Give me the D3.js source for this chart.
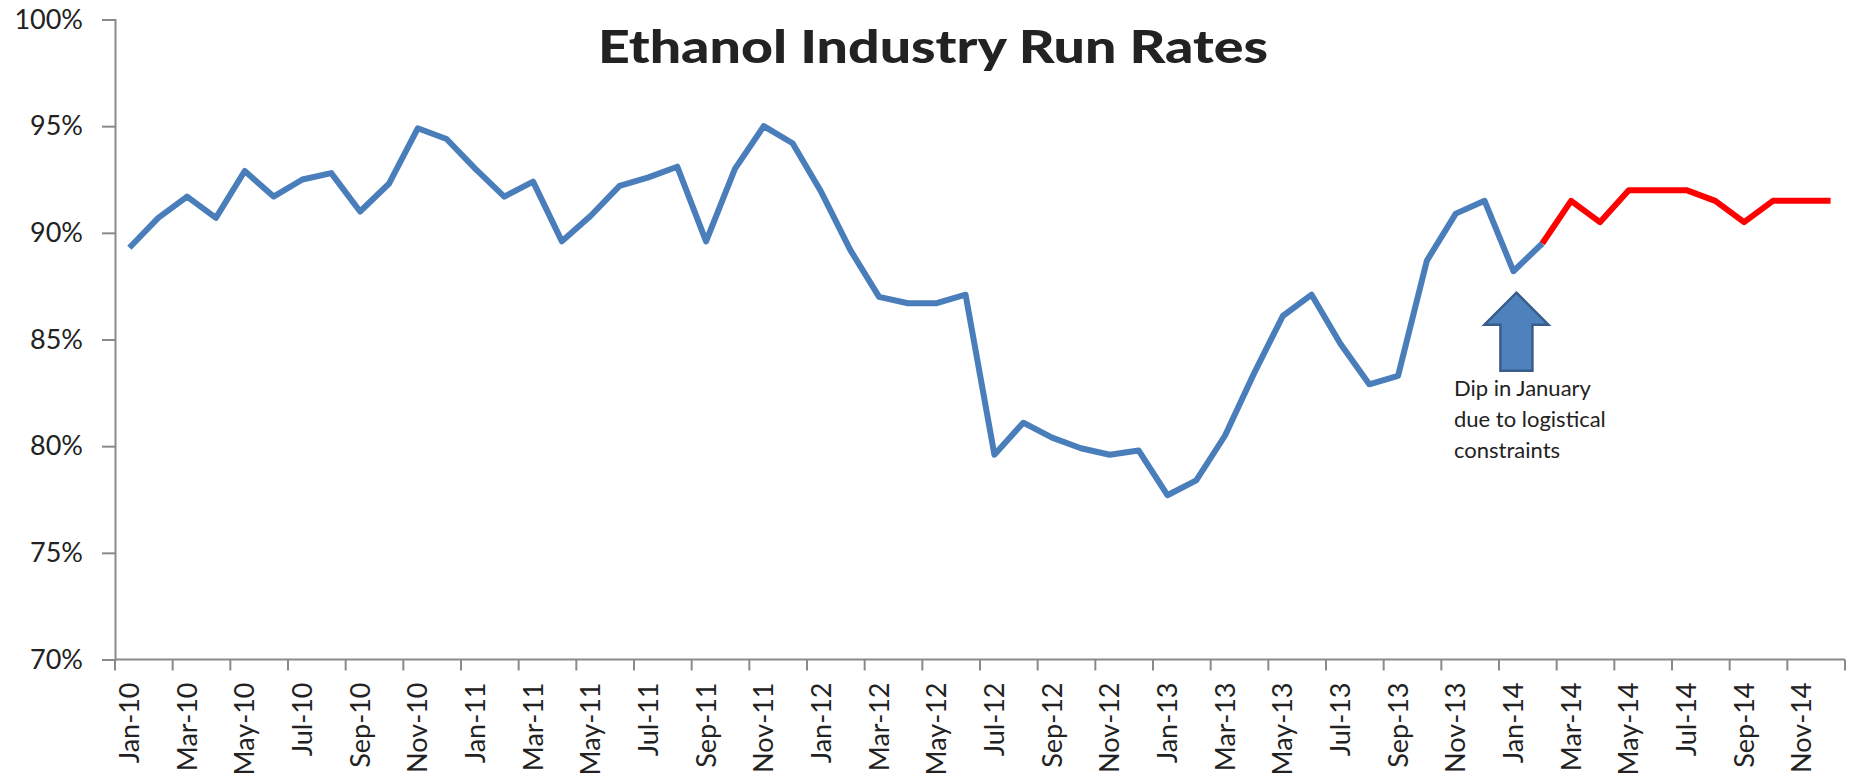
<!DOCTYPE html>
<html>
<head>
<meta charset="utf-8">
<script src="https://cdn.jsdelivr.net/npm/d3@7"></script>
<style>
  html, body { margin: 0; padding: 0; background: #ffffff; }
  svg { display: block; }
  text { font-family: Lato, "Open Sans", sans-serif; fill: #222; }
</style>
</head>
<body>
<svg id="chart" width="1851" height="782"></svg>
<script>
// Monthly categories, Jan-10 .. Dec-14
const monthNames = ["Jan","Feb","Mar","Apr","May","Jun","Jul","Aug","Sep","Oct","Nov","Dec"];
const years = ["10","11","12","13","14"];
const months = years.flatMap(y => monthNames.map(m => `${m}-${y}`));

// Reported run rates (%), Jan-10 .. Feb-14
const actualRates = [
  89.3, 90.7, 91.7, 90.7, 92.9, 91.7, 92.5, 92.8, 91.0, 92.3, 94.9, 94.4,
  93.0, 91.7, 92.4, 89.6, 90.8, 92.2, 92.6, 93.1, 89.6, 93.0, 95.0, 94.2,
  91.9, 89.2, 87.0, 86.7, 86.7, 87.1, 79.6, 81.1, 80.4, 79.9, 79.6, 79.8,
  77.7, 78.4, 80.5, 83.4, 86.1, 87.1, 84.8, 82.9, 83.3, 88.7, 90.9, 91.5,
  88.2, 89.5
];

// Projected run rates (%), Feb-14 .. Dec-14
const forecastStart = "Feb-14";
const forecastRates = [89.5, 91.5, 90.5, 92.0, 92.0, 92.0, 91.5, 90.5, 91.5, 91.5, 91.5];

// Axis ticks
const yTicks = [70, 75, 80, 85, 90, 95, 100];
const xLabelMonths = months.filter((d, i) => i % 2 === 0);

const title = "Ethanol Industry Run Rates";
const noteLines = ["Dip in January", "due to logistical", "constraints"];
const noteMonth = "Jan-14";

const svg = d3.select("#chart");

const plot = { left: 115, right: 1845, top: 19.5, bottom: 659.5 };

const x = d3.scaleBand().domain(months).range([plot.left, plot.right]).padding(0);
const y = d3.scaleLinear().domain([70, 100]).range([plot.bottom, plot.top]);
const cx = m => x(m) + x.bandwidth() / 2;

const axisColor = "#8a8a8a";

// Y axis
const yAxis = svg.append("g")
  .attr("transform", `translate(${plot.left},0)`)
  .call(d3.axisLeft(y).tickValues(yTicks).tickSize(13).tickPadding(19).tickFormat(d => d + "%"));
yAxis.select(".domain").attr("stroke", axisColor).attr("stroke-width", 2);
yAxis.selectAll(".tick line").attr("stroke", axisColor).attr("stroke-width", 2);
yAxis.selectAll(".tick text")
  .attr("font-size", 27).attr("font-family", "Lato, sans-serif").attr("fill", "#222");

// X axis line and tick marks at category boundaries every two months
const xAxisG = svg.append("g");
xAxisG.append("line")
  .attr("x1", plot.left).attr("x2", plot.right)
  .attr("y1", y(70)).attr("y2", y(70))
  .attr("stroke", axisColor).attr("stroke-width", 2);
const boundaries = xLabelMonths.map(m => x(m)).concat([plot.right]);
xAxisG.selectAll("line.tick").data(boundaries).join("line")
  .attr("class", "tick")
  .attr("x1", d => d).attr("x2", d => d)
  .attr("y1", y(70)).attr("y2", y(70) + 11)
  .attr("stroke", axisColor).attr("stroke-width", 2);
xAxisG.selectAll("text").data(xLabelMonths).join("text")
  .attr("transform", d => `translate(${cx(d)},${y(70) + 23}) rotate(-90)`)
  .attr("text-anchor", "end")
  .attr("dy", "0.36em")
  .attr("font-size", 27)
  .text(d => d);

// Lines
const line = d3.line()
  .x(d => cx(d.month))
  .y(d => y(d.value));

const actualData = actualRates.map((v, i) => ({ month: months[i], value: v }));
const startIdx = months.indexOf(forecastStart);
const forecastData = forecastRates.map((v, i) => ({ month: months[startIdx + i], value: v }));

svg.append("path")
  .datum(forecastData)
  .attr("d", line)
  .attr("fill", "none")
  .attr("stroke", "#ff0000")
  .attr("stroke-width", 6)
  .attr("stroke-linejoin", "round");

svg.append("path")
  .datum(actualData)
  .attr("d", line)
  .attr("fill", "none")
  .attr("stroke", "#4a7ebb")
  .attr("stroke-width", 6)
  .attr("stroke-linejoin", "round");

// Title
svg.append("text")
  .attr("x", 933)
  .attr("y", 63)
  .attr("text-anchor", "middle")
  .attr("font-size", 46)
  .attr("font-weight", 900)
  .attr("fill", "#000")
  .attr("textLength", 670)
  .attr("lengthAdjust", "spacingAndGlyphs")
  .text(title);

// Block arrow pointing up at the January dip
const noteValue = actualRates[months.indexOf(noteMonth)];
const ax = cx(noteMonth) + 3;
const tipY = y(noteValue) + 21.5;
const headH = 32, headHalf = 32, shaftHalf = 16, shaftBottom = tipY + 78;
const arrowPts = [
  [ax, tipY],
  [ax + headHalf, tipY + headH],
  [ax + shaftHalf, tipY + headH],
  [ax + shaftHalf, shaftBottom],
  [ax - shaftHalf, shaftBottom],
  [ax - shaftHalf, tipY + headH],
  [ax - headHalf, tipY + headH]
];
svg.append("polygon")
  .attr("points", arrowPts.map(p => p.join(",")).join(" "))
  .attr("fill", "#4f81bd")
  .attr("stroke", "#385d8a")
  .attr("stroke-width", 2.5)
  .attr("stroke-linejoin", "miter");

// Annotation text
const note = svg.append("text")
  .attr("font-size", 22)
  .attr("fill", "#222");
noteLines.forEach((t, i) => {
  note.append("tspan")
    .attr("x", 1454)
    .attr("y", 395.5 + i * 31.2)
    .text(t);
});
</script>
</body>
</html>
